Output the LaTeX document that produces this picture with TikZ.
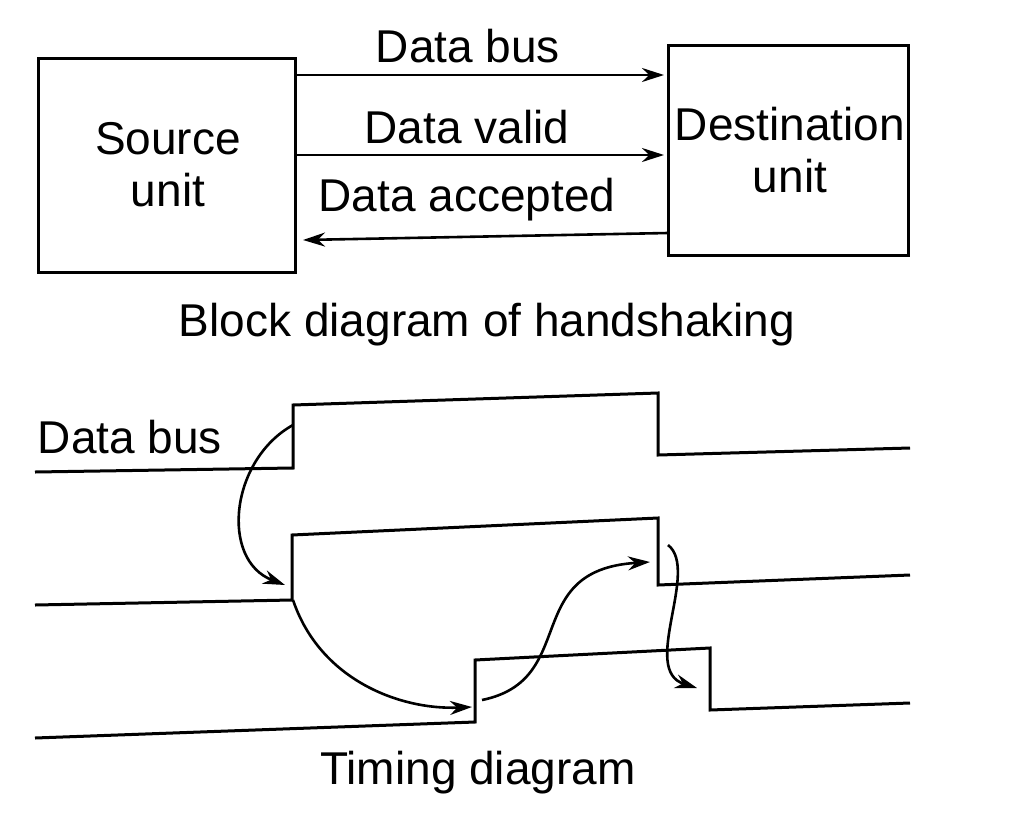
\documentclass[tikz,border=0pt]{standalone}
\usepackage{fontspec}
\setmainfont{Liberation Sans}
\usetikzlibrary{arrows.meta}
\begin{document}
\begin{tikzpicture}[x=1pt,y=-1pt,
  lbl/.style={font=\fontsize{46}{52}\selectfont,inner sep=0},
  wave/.style={line width=3pt},
  arr/.style={line width=2.6pt,-{Stealth[length=22pt,width=14pt]}}]
\useasboundingbox (0,0) rectangle (1024,835);
\draw[line width=3pt] (38,58) rectangle (295,272);
\draw[line width=3pt] (668,45) rectangle (908,255);
\node[lbl,align=center] (src) at (168,165) {Source\\unit};
\node[lbl,align=center] (dst) at (790,150) {Destination\\unit};
\coordinate (a1) at (295,75); \coordinate (b1) at (664,75);
\coordinate (a2) at (295,155); \coordinate (b2) at (664,155);
\coordinate (a3) at (668,233); \coordinate (b3) at (303,240);
\draw[arr] (a1) -- (b1);
\draw[arr] (a2) -- (b2);
\draw[arr] (a3) -- (b3);
\node[lbl] (l1) at (468,46) {Data bus};
\node[lbl] (l2) at (467,127) {Data valid};
\node[lbl] (l3) at (467,200) {Data accepted};
\node[lbl] (c1) at (487,325) {Block diagram of handshaking};
\node[lbl] (l4) at (130,437) {Data bus};
\draw[wave] (35,472) -- (293,468) -- (293,405) -- (658,393) -- (658,455) -- (910,448);
\draw[wave] (35,605) -- (292,600) -- (292,535) -- (658,518) -- (658,585) -- (910,575);
\draw[wave] (35,738) -- (475,722) -- (475,660) -- (710,648) -- (710,710) -- (910,703);
\draw[arr] (293,425) .. controls (230,460) and (220,560) .. (285,585);
\draw[arr] (293,600) .. controls (320,680) and (400,710) .. (472,707);
\draw[arr] (482,700) .. controls (580,680) and (520,570) .. (650,562);
\draw[arr] (668,545) .. controls (700,570) and (640,670) .. (697,688);
\node[lbl] (c2) at (478,773) {Timing diagram};
\end{tikzpicture}
\end{document}
